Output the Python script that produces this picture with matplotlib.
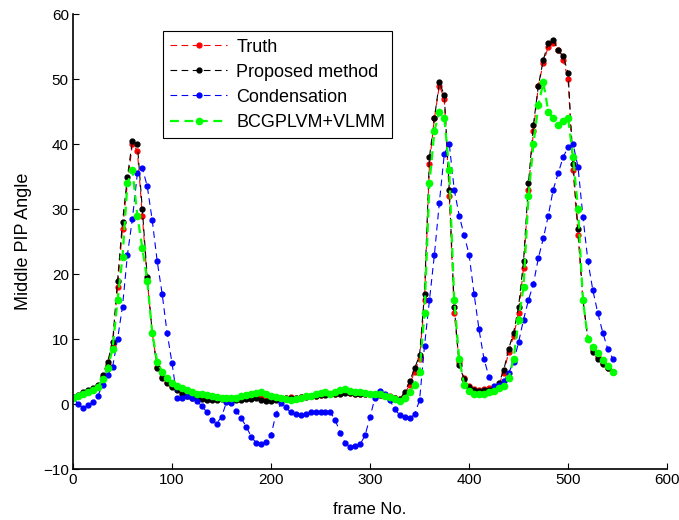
import numpy as np
import matplotlib
matplotlib.use('Agg')
import matplotlib.pyplot as plt

plt.rcParams['font.family'] = ['Liberation Sans', 'DejaVu Sans']

# frame numbers, one sample every 5 frames
frames = np.arange(0, 550, 5)

truth = [1.0, 1.3, 1.7, 2.0, 2.3, 2.8, 4.2, 6.0, 9.0, 18, 27, 34, 40, 39, 29, 19, 11, 5.7, 4.2, 3.4,
         2.8, 2.4, 1.8, 1.4, 1.1, 1.0, 0.9, 0.8, 0.8, 0.8, 0.9, 0.9, 1.0, 0.9, 0.8, 0.9, 1.0, 1.2, 1.0, 0.8,
         0.7, 0.8, 0.9, 1.0, 1.1, 1.0, 1.1, 1.2, 1.3, 1.3, 1.4, 1.5, 1.6, 1.5, 1.7, 1.8, 1.7, 1.6, 1.6, 1.5,
         1.5, 1.5, 1.4, 1.3, 1.2, 1.0, 0.8, 1.5, 3.0, 5.0, 7.0, 16, 37, 44, 49, 47, 32, 14, 6.5, 4.0,
         2.8, 2.3, 2.2, 2.3, 2.4, 2.6, 3.0, 4.8, 8.0, 10.5, 14, 21, 33, 42, 49, 52.5, 55, 55.5, 54.5, 53,
         50, 36, 26, 16, 10, 8.3, 7.3, 6.3, 5.6, 5.0]

proposed = [1.1, 1.4, 1.8, 2.1, 2.4, 3.0, 4.5, 6.5, 9.5, 19, 28, 35, 40.5, 40, 30, 19.5, 11, 5.5, 4.0, 3.2,
            2.6, 2.2, 1.6, 1.2, 0.9, 0.8, 0.7, 0.6, 0.6, 0.6, 0.7, 0.6, 0.7, 0.6, 0.6, 0.7, 0.8, 0.9, 0.6, 0.5,
            0.5, 0.6, 0.8, 0.9, 1.0, 1.0, 1.1, 1.1, 1.2, 1.3, 1.4, 1.4, 1.5, 1.5, 1.6, 1.7, 1.7, 1.6, 1.5, 1.5,
            1.5, 1.4, 1.4, 1.3, 1.1, 0.9, 0.8, 1.8, 3.5, 5.5, 7.5, 17, 38, 44, 49.5, 47.5, 33, 15, 6.0, 3.8,
            2.6, 2.1, 2.0, 2.1, 2.2, 2.5, 3.2, 5.2, 8.5, 11, 15, 22, 34, 43, 49, 53, 55.5, 56, 54.5, 53.5,
            51, 37, 27, 16, 10, 8.0, 7.0, 6.2, 5.5, 5.0]

condensation = [1.0, 0.0, -0.6, -0.2, 0.3, 1.2, 3.0, 4.5, 5.7, 10, 15, 23, 28.5, 35.5, 36.3, 33.5, 28.3, 22, 17, 11,
                6.3, 1.0, 1.0, 1.2, 1.0, 0.5, -0.3, -1.2, -2.5, -3.0, -2.0, 0.3, 0.1, -1.0, -2.2, -3.5, -5.0, -6.0, -6.2, -5.9,
                -4.8, -1.5, 0.1, -0.5, -1.3, -1.6, -1.7, -1.6, -1.3, -1.2, -1.2, -1.2, -1.3, -2.5, -4.5, -6.0, -6.6, -6.5, -6.2, -4.8,
                -2.0, 1.0, 2.0, 1.5, 0.6, -0.8, -1.7, -2.0, -2.2, -1.6, 0.6, 9, 16, 23, 31, 38.5, 40, 33, 29, 26,
                23, 17, 11.5, 7.0, 4.2, 2.8, 3.0, 3.5, 4.8, 6.5, 9.5, 13, 16, 18.5, 22.5, 25.5, 29, 33, 35.5, 38,
                39.5, 40, 36.5, 28.8, 22, 17.5, 14, 11, 8.5, 7.0]

bcgplvm = [1.0, 1.2, 1.5, 1.8, 2.2, 2.6, 3.8, 5.5, 8.5, 16, 22.6, 34, 36, 29, 24, 19, 11, 6.5, 5.0, 4.0,
           3.3, 2.8, 2.5, 2.2, 1.9, 1.6, 1.5, 1.4, 1.2, 1.1, 1.0, 1.0, 0.9, 1.0, 1.2, 1.4, 1.5, 1.7, 1.9, 1.6,
           1.3, 1.1, 0.9, 0.7, 0.6, 0.8, 1.0, 1.2, 1.3, 1.5, 1.7, 1.9, 1.6, 1.8, 2.2, 2.3, 2.0, 1.9, 1.8, 1.7,
           1.6, 1.6, 1.5, 1.3, 1.1, 0.7, 0.4, 1.0, 1.8, 3.0, 5.0, 14, 34, 42, 45, 44, 36, 16, 7.0, 3.0,
           2.0, 1.6, 1.5, 1.6, 1.8, 2.0, 2.4, 2.8, 4.0, 7.0, 13, 18, 32, 40, 46, 49.5, 45, 44, 43, 43.5,
           44, 38, 30, 16, 10, 8.8, 7.8, 6.8, 5.8, 5.0]

labels = ['Truth', 'Proposed method', 'Condensation', 'BCGPLVM+VLMM']

fig = plt.figure(figsize=(6.79, 5.2), dpi=100)
ax = fig.add_axes([0.1075, 0.098, 0.875, 0.875])

dash = (6, 4)
ax.plot(frames, truth, '--', color='red', marker='.', markersize=7, lw=0.8, dashes=dash, label=labels[0])
ax.plot(frames, proposed, '--', color='black', marker='.', markersize=7, lw=0.8, dashes=dash, label=labels[1])
ax.plot(frames, condensation, '--', color='blue', marker='.', markersize=7, lw=0.8, dashes=dash, label=labels[2])
ax.plot(frames, bcgplvm, '--', color='#00ff00', marker='.', markersize=9, lw=1.6, dashes=(4, 2.5), label=labels[3])

ax.set_xlim(0, 600)
ax.set_ylim(-10, 60)
ax.set_xticks(range(0, 700, 100))
ax.set_yticks(range(-10, 70, 10))
ax.spines['top'].set_visible(False)
ax.spines['right'].set_visible(False)
ax.spines['left'].set_linewidth(1.2)
ax.spines['bottom'].set_linewidth(1.2)
ax.tick_params(direction='in', labelsize=11, length=4, pad=3)
ax.set_xlabel('frame No.', fontsize=12, labelpad=11)
ax.set_ylabel('Middle PIP Angle', fontsize=13, labelpad=8)

leg = ax.legend(loc='upper left', bbox_to_anchor=(0.1515, 0.962), fontsize=13,
                fancybox=False, framealpha=1, edgecolor='black', handlelength=3.15,
                handletextpad=0.5, borderpad=0.4, labelspacing=0.45, borderaxespad=0)
leg.get_frame().set_linewidth(0.8)

fig.savefig('out.png', dpi=100)
